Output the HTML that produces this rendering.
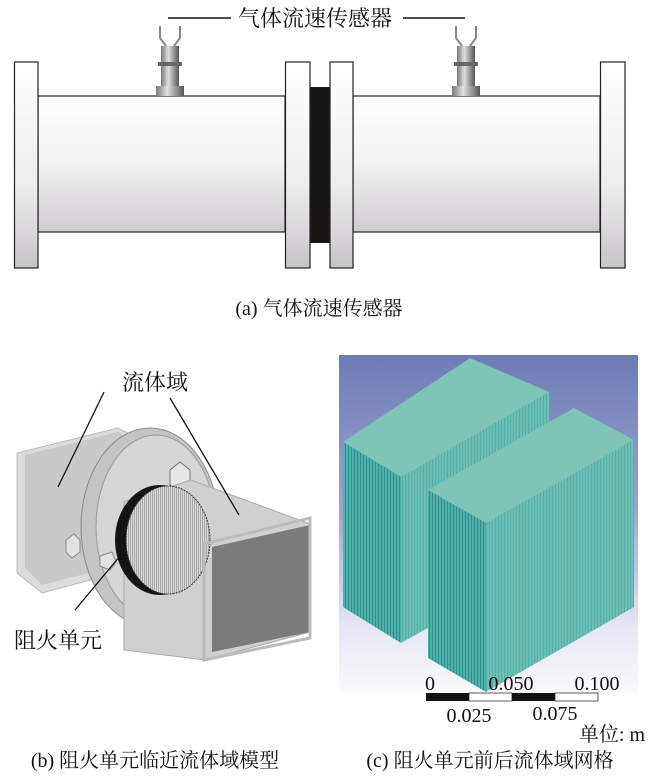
<!DOCTYPE html>
<html><head><meta charset="utf-8"><style>
html,body{margin:0;padding:0;background:#fff;}
svg{display:block;font-family:"Liberation Serif","Noto Serif CJK SC","Noto Sans CJK SC",serif;}
</style></head><body>
<svg width="650" height="776" viewBox="0 0 650 776" xmlns="http://www.w3.org/2000/svg">
<defs>
<linearGradient id="pipe" x1="0" y1="0" x2="0" y2="1">
<stop offset="0" stop-color="#ffffff"/><stop offset="0.5" stop-color="#f2f1f2"/><stop offset="1" stop-color="#cfcccf"/></linearGradient>
<linearGradient id="fl" x1="0" y1="0" x2="0" y2="1">
<stop offset="0" stop-color="#ffffff"/><stop offset="0.6" stop-color="#eeedee"/><stop offset="1" stop-color="#c8c5c8"/></linearGradient>
<linearGradient id="sens" x1="0" y1="0" x2="1" y2="0">
<stop offset="0" stop-color="#777"/><stop offset="0.4" stop-color="#e0e0e0"/><stop offset="0.7" stop-color="#999"/><stop offset="1" stop-color="#555"/></linearGradient>
<linearGradient id="bg" x1="0" y1="0" x2="0" y2="1">
<stop offset="0" stop-color="#6c7cb6"/><stop offset="0.45" stop-color="#9aa4d0"/><stop offset="0.8" stop-color="#e4e6f4"/><stop offset="1" stop-color="#fafafc"/></linearGradient>
<pattern id="mesh" width="3" height="3" patternUnits="userSpaceOnUse">
<rect width="3" height="3" fill="#4fb0aa"/><rect width="1" height="3" fill="#2f8f8f"/></pattern>
<pattern id="mesh2" width="3" height="3" patternUnits="userSpaceOnUse">
<rect width="3" height="3" fill="#6cc0b6"/><rect width="1" height="3" fill="#58aca6"/></pattern>
<pattern id="scr" width="2" height="2" patternUnits="userSpaceOnUse">
<rect width="2" height="2" fill="#d8d8d8"/><rect width="1" height="2" fill="#a8a8a8"/></pattern>
</defs>

<!-- (a) -->
<line x1="168" y1="18" x2="231" y2="18" stroke="#111" stroke-width="1.5"/>
<line x1="403" y1="18" x2="465" y2="18" stroke="#111" stroke-width="1.5"/>
<text x="315" y="26" font-size="22" text-anchor="middle" fill="#111">气体流速传感器</text>

<rect x="38" y="96" width="247" height="136" fill="url(#pipe)" stroke="#222" stroke-width="1.2"/>
<rect x="353" y="96" width="247" height="136" fill="url(#pipe)" stroke="#222" stroke-width="1.2"/>
<rect x="310" y="87" width="20" height="156" fill="#181614"/>
<rect x="14.5" y="62" width="23.5" height="206" fill="url(#fl)" stroke="#222" stroke-width="1.2"/>
<rect x="285.5" y="62" width="24.5" height="206" fill="url(#fl)" stroke="#222" stroke-width="1.2"/>
<rect x="330" y="62" width="23" height="206" fill="url(#fl)" stroke="#222" stroke-width="1.2"/>
<rect x="600.5" y="62" width="24.5" height="206" fill="url(#fl)" stroke="#222" stroke-width="1.2"/>
<!-- sensors -->
<g id="s1">
<path d="M160 26 L160 38 L166 46 M180 26 L180 38 L174 46" stroke="#888" stroke-width="2" fill="none"/>
<rect x="161" y="46" width="18" height="16" fill="url(#sens)"/>
<rect x="158" y="62" width="24" height="4" fill="#666"/>
<rect x="161" y="66" width="18" height="20" fill="url(#sens)"/>
<rect x="156" y="86" width="28" height="10" fill="url(#sens)"/>
</g>
<use href="#s1" x="296"/>
<text x="319" y="315" font-size="20" text-anchor="middle" fill="#111">(a) 气体流速传感器</text>

<!-- (b) -->
<polygon points="17,453 118,428 146,443 146,565 42,593 17,573" fill="#dcdcdc" stroke="#bbb"/>
<polygon points="25,455 118,432 140,446 140,560 42,585 25,568" fill="#c9c9c9"/>
<ellipse cx="150" cy="527" rx="69" ry="99" fill="#c4c4c4" stroke="#8a8a8a"/>
<ellipse cx="156" cy="527" rx="60" ry="92" fill="#d6d6d6" stroke="#999"/>
<polygon points="170,470 180,462 190,470 190,485 180,492 170,485" fill="#e6e6e6" stroke="#777"/>
<polygon points="66,540 74,534 80,540 80,552 72,558 66,552" fill="#e2e2e2" stroke="#888"/>
<polygon points="100,556 112,552 116,562 110,570 100,566" fill="#e2e2e2" stroke="#888"/>
<polygon points="124,502 191,480 310,524 310,632 205,660 124,650" fill="#d0d0d0" stroke="#aaa"/>
<ellipse cx="160" cy="540" rx="45" ry="55" fill="#141414"/>
<ellipse cx="168" cy="540" rx="42" ry="54" fill="url(#scr)" stroke="#333" stroke-dasharray="2 1"/>
<polygon points="212,547 310,525 310,632 212,652" fill="#7b7b7b"/>
<polygon points="204,544 310,518 310,638 204,660" fill="none" stroke="#bbb" stroke-width="3"/>
<line x1="104" y1="392" x2="58" y2="487" stroke="#111" stroke-width="1.3"/>
<line x1="170" y1="398" x2="239" y2="515" stroke="#111" stroke-width="1.3"/>
<line x1="75" y1="610" x2="125" y2="550" stroke="#111" stroke-width="1.3"/>
<text x="155" y="390" font-size="22" text-anchor="middle" fill="#111">流体域</text>
<text x="58" y="648" font-size="22" text-anchor="middle" fill="#111">阻火单元</text>
<text x="155" y="767" font-size="20" text-anchor="middle" fill="#111">(b) 阻火单元临近流体域模型</text>

<!-- (c) -->
<rect x="339" y="355" width="299" height="338" fill="url(#bg)"/>
<ellipse cx="470" cy="520" rx="40" ry="95" fill="#5fc0bf" opacity="0.8"/>
<polygon points="401,477 549,392 549,560 401,643" fill="url(#mesh2)"/>
<polygon points="343,442 470,358 549,392 401,477" fill="#80c4b8"/>
<polygon points="343,442 401,477 401,643 343,607" fill="url(#mesh)"/>
<polygon points="428,490 574,408 634,440 486,523" fill="#80c4b8"/>
<polygon points="428,490 486,523 486,692 428,658" fill="url(#mesh)"/>
<polygon points="486,523 634,440 634,607 486,692" fill="url(#mesh2)"/>
<rect x="426" y="693" width="43" height="8" fill="#111"/>
<rect x="469" y="693" width="43" height="8" fill="#fff" stroke="#333" stroke-width="0.8"/>
<rect x="512" y="693" width="43" height="8" fill="#111"/>
<rect x="555" y="693" width="43" height="8" fill="#fff" stroke="#333" stroke-width="0.8"/>
<g font-size="20" fill="#111" text-anchor="middle">
<text x="430" y="690">0</text>
<text x="511" y="690">0.050</text>
<text x="597" y="690">0.100</text>
<text x="469" y="722">0.025</text>
<text x="555" y="720">0.075</text>
<text x="612" y="741">单位: m</text>
<text x="490" y="767">(c) 阻火单元前后流体域网格</text>
</g>
</svg>
</body></html>
